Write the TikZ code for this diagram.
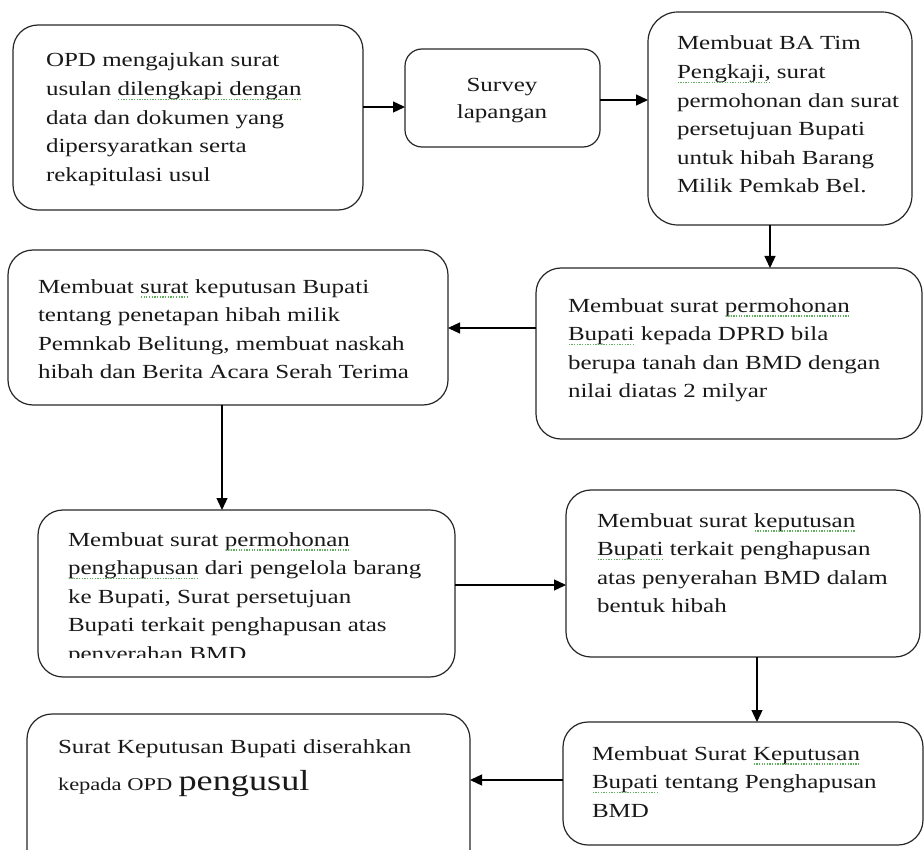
\documentclass[tikz,border=0pt]{standalone}
\usepackage{fontspec}
\setmainfont{Liberation Serif}[FakeStretch=1.25]
\usetikzlibrary{arrows.meta}
\definecolor{spell}{RGB}{95,175,95}
\newcommand\spellu[1]{\setbox0\hbox{#1}\rlap{\copy0}\raisebox{-4.5pt}[0pt][0pt]{\color{spell}\hbox to \wd0{\xleaders\hbox to 2.6pt{\hss\rule{1.3pt}{1.3pt}\hss}\hfill}}}
\begin{document}
\begin{tikzpicture}[x=1pt,y=-1pt,
  box/.style={draw=black!85, line width=1.2pt, rounded corners=25pt, inner sep=0pt, outer sep=0pt},
  txt/.style={inner sep=0pt, outer sep=0pt, align=left, anchor=base west, text=black!90,
              font=\fontsize{20}{28.6}\selectfont},
  arr/.style={draw=black, line width=1.3pt, -{Triangle[length=12pt,width=11pt]}}]
\useasboundingbox (0,0) rectangle (924,850);
\clip (0,0) rectangle (924,850);

% boxes
\node[box, minimum width=350pt, minimum height=185pt] (b1) at (188,117.5) {};
\node[box, rounded corners=17pt, minimum width=195pt, minimum height=98pt] (b2) at (502.5,98) {};
\node[box, rounded corners=30pt, minimum width=264pt, minimum height=213pt] (b3) at (780,118.5) {};
\node[box, minimum width=386pt, minimum height=171pt] (b4) at (729,353.5) {};
\node[box, minimum width=440pt, minimum height=155pt] (b5) at (228,327.5) {};
\node[box, minimum width=417pt, minimum height=167pt] (b6) at (246.5,593.5) {};
\node[box, minimum width=354pt, minimum height=167pt] (b7) at (743,573.5) {};
\node[box, minimum width=360pt, minimum height=123pt] (b8) at (743,783.5) {};
\node[box, minimum width=443pt, minimum height=186pt] (b9) at (248.5,807) {};

% texts (base anchor = baseline of last line)
\node[txt] (t1) at (46,181.4) {OPD mengajukan surat\\usulan \spellu{dilengkapi dengan}\\data dan dokumen yang\\dipersyaratkan serta\\rekapitulasi usul};
\node[txt, align=center, anchor=base] (t2) at (502,119) {Survey\\[-1.6pt]lapangan};
\node[txt] (t3) at (677,193) {Membuat BA Tim\\\spellu{Pengkaji,} surat\\permohonan dan surat\\persetujuan Bupati\\untuk hibah Barang\\Milik Pemkab Bel.};
\node[txt] (t4) at (568,397.8) {Membuat surat \spellu{permohonan}\\\spellu{Bupati} kepada DPRD bila\\berupa tanah dan BMD dengan\\nilai diatas 2 milyar};
\node[txt] (t5) at (38,378.8) {Membuat \spellu{surat} keputusan Bupati\\tentang penetapan hibah milik\\Pemnkab Belitung, membuat naskah\\hibah dan Berita Acara Serah Terima};
\begin{scope}
  \clip (0,0) rectangle (924,657);
  \node[txt] (t6) at (68,660.4) {Membuat surat \spellu{permohonan}\\\spellu{penghapusan} dari pengelola barang\\ke Bupati, Surat persetujuan\\Bupati terkait penghapusan atas\\penyerahan BMD};
\end{scope}
\node[txt] (t7) at (597,612.8) {Membuat surat \spellu{keputusan}\\\spellu{Bupati} terkait penghapusan\\atas penyerahan BMD dalam\\bentuk hibah};
\node[txt] (t8) at (592,817.2) {Membuat Surat \spellu{Keputusan}\\\spellu{Bupati} tentang Penghapusan\\BMD};
\node[txt] (t9) at (58,790) {Surat Keputusan Bupati diserahkan\\[8.4pt]{\fontsize{18}{20}\selectfont kepada OPD} {\fontsize{29}{32}\selectfont pengusul}};

% connectors
\draw[arr] (b1.east |- 0,107) -- (b2.west |- 0,107);
\draw[arr] (b2.east |- 0,100) -- (b3.west |- 0,100);
\draw[arr] (b3.south -| 770,0) -- (b4.north -| 770,0);
\draw[arr] (b4.west |- 0,328) -- (b5.east |- 0,328);
\draw[arr] (b5.south -| 222,0) -- (b6.north -| 222,0);
\draw[arr] (b6.east |- 0,585) -- (b7.west |- 0,585);
\draw[arr] (b7.south -| 757,0) -- (b8.north -| 757,0);
\draw[arr] (b8.west |- 0,780) -- (b9.east |- 0,780);
\end{tikzpicture}
\end{document}
